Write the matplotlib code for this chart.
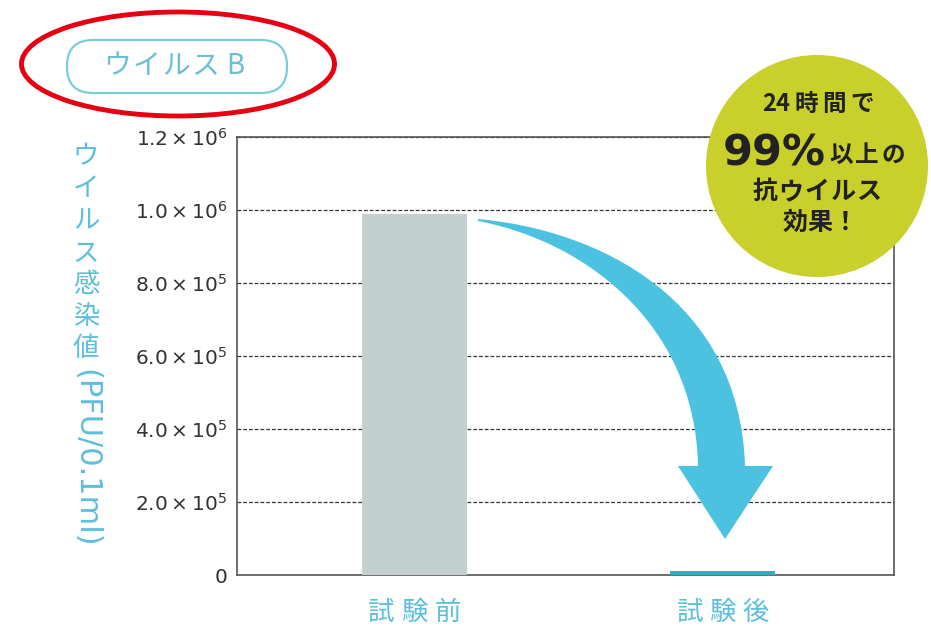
import matplotlib

matplotlib.use("Agg")
import matplotlib.pyplot as plt
from matplotlib.patches import Circle, Ellipse, FancyBboxPatch, PathPatch
from matplotlib.path import Path

JP = ["Noto Sans CJK JP", "DejaVu Sans"]
plt.rcParams["font.family"] = JP
plt.rcParams["mathtext.fontset"] = "dejavusans"

# ---- data -----------------------------------------------------------------
categories = ["試験前", "試験後"]
values = [9.9e5, 1.0e4]
bar_colors = ["#c3d0d0", "#3aa9c2"]
yticks = [0, 2e5, 4e5, 6e5, 8e5, 1.0e6, 1.2e6]
ytick_labels = ["$0$", r"$2.0\times10^{5}$", r"$4.0\times10^{5}$", r"$6.0\times10^{5}$",
                r"$8.0\times10^{5}$", r"$1.0\times10^{6}$", r"$1.2\times10^{6}$"]
title = "ウイルスB"
ylabel_jp = "ウイルス感染値"
ylabel_unit = "(PFU/0.1ml)"
badge = ["24", "時間で", "99%", "以上の", "抗ウイルス", "効果！"]

# ---- palette --------------------------------------------------------------
INK = "#333333"
CYAN = "#5cbfd9"
ARROW = "#4bc3e0"
LIME = "#c9d02c"

W, H = 931, 629
fig = plt.figure(figsize=(W / 100, H / 100), dpi=100)

# main chart axes
ax = fig.add_axes((237 / W, 1 - 575 / H, (894 - 237) / W, (575 - 137) / H))
xs = list(range(len(categories)))
ax.bar(xs, values, width=0.341, color=bar_colors, zorder=3)
ax.set_xlim(-0.575, 1.555)
ax.set_ylim(0, 1.2e6)
ax.set_yticks(yticks)
ax.set_yticklabels(ytick_labels)
ax.set_xticks([])
ax.tick_params(axis="y", length=0, pad=7, labelsize=14.5, labelcolor=INK)
ax.grid(axis="y", linestyle=(0, (3, 1.6)), color="#333333", linewidth=0.9, zorder=1)
ax.set_axisbelow(True)
for s in ax.spines.values():
    s.set_color("#555555")
    s.set_linewidth(1.2)

# category labels, letter-spaced under each bar
pitch = 23.8
for x, lab in zip(xs, categories):
    n = len(lab)
    for k, ch in enumerate(lab):
        ax.annotate(ch, xy=(x, 0), xycoords=("data", "axes fraction"),
                    xytext=((k - (n - 1) / 2) * pitch, -27), textcoords="offset points",
                    ha="center", va="center", fontsize=19, color=CYAN)

# overlay in pixel coordinates for decorations
ov = fig.add_axes((0, 0, 1, 1), zorder=5)
ov.set_xlim(0, W)
ov.set_ylim(H, 0)
ov.axis("off")
ov.patch.set_alpha(0)


def spaced(cx, cy, s, pitch, **kw):
    n = len(s)
    for k, ch in enumerate(s):
        ov.text(cx + (k - (n - 1) / 2) * pitch, cy, ch, ha="center", va="center", **kw)


# curved arrow
verts = [(478, 219), (600, 230), (740, 300), (745, 466),
         (773, 466), (725, 539), (678, 466), (698, 466),
         (695, 320), (580, 240), (478, 221), (478, 219)]
codes = [Path.MOVETO, Path.CURVE4, Path.CURVE4, Path.CURVE4,
         Path.LINETO, Path.LINETO, Path.LINETO, Path.LINETO,
         Path.CURVE4, Path.CURVE4, Path.CURVE4, Path.CLOSEPOLY]
ov.add_patch(PathPatch(Path(verts, codes), facecolor=ARROW, edgecolor="none", zorder=2))

# badge circle
DARK = "#222222"
ov.add_patch(Circle((817, 166), 111, facecolor=LIME, edgecolor="none", zorder=3))
ov.text(790, 104, badge[0], ha="right", va="center", fontsize=17, weight="bold", color=DARK, zorder=4)
spaced(834, 104, badge[1], 28, fontsize=17, weight="bold", color=DARK, zorder=4)
ov.text(826, 166, badge[2], ha="right", va="baseline", fontsize=31, weight="bold",
        color=DARK, family=["DejaVu Sans"], zorder=4)
spaced(867, 155, badge[3], 26, fontsize=17, weight="bold", color=DARK, zorder=4)
spaced(817, 192, badge[4], 26, fontsize=18, weight="bold", color=DARK, zorder=4)
spaced(820, 223, badge[5], 25, fontsize=18, weight="bold", color=DARK, zorder=4)

# title pill + red ellipse
ov.add_patch(FancyBboxPatch((67, 40), 220, 53, boxstyle="round,pad=0,rounding_size=26",
                            facecolor="white", edgecolor="#7ccbdc", linewidth=1.6, zorder=3))
spaced(176, 66, title, 29.5, fontsize=20, color="#6cbfd3", zorder=4)
ov.add_patch(Ellipse((178, 64), 313, 104, fill=False, edgecolor="#e60012", linewidth=3.5, zorder=4))

# vertical y label
for k, ch in enumerate(ylabel_jp):
    ov.text(86, 157 + k * 32, ch, ha="center", va="center", fontsize=19, color=CYAN)
ov.text(86, 458, ylabel_unit, ha="center", va="center", rotation=-90, fontsize=22,
        color=CYAN, family=["DejaVu Sans"])

fig.savefig("out.png", dpi=100)
